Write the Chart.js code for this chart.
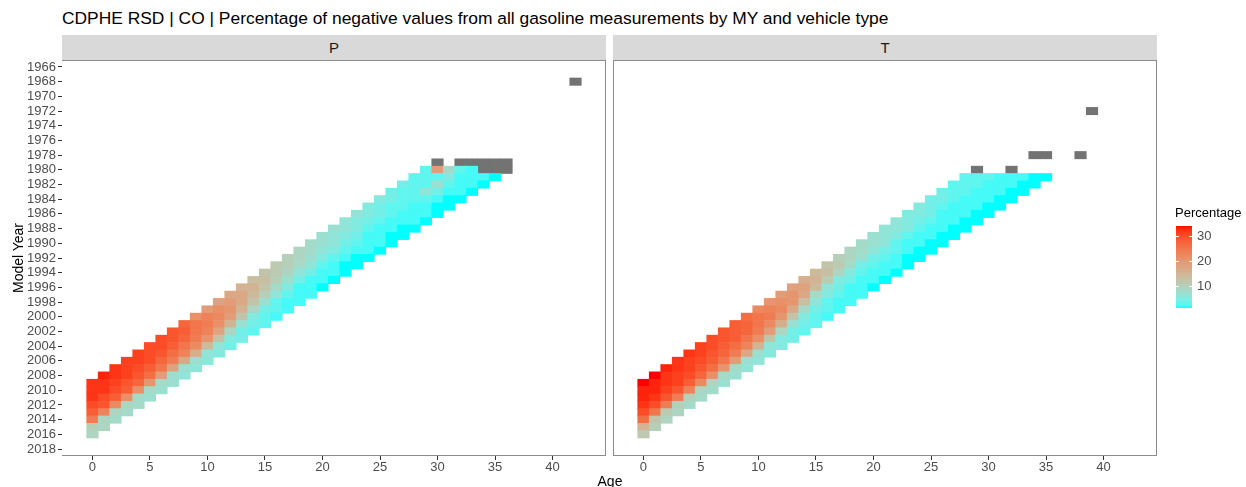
<!DOCTYPE html>
<html><head><meta charset="utf-8">
<script src="https://cdn.jsdelivr.net/npm/chart.js@4.4.1/dist/chart.umd.min.js"></script>
<style>
html,body{margin:0;padding:0;background:#fff;}
#wrap{position:relative;width:1246px;height:487px;overflow:hidden;font-family:"Liberation Sans",Arial,sans-serif;background:#fff;}
canvas{position:absolute;top:0;}
.t{position:absolute;white-space:nowrap;line-height:1;}
.strip{position:absolute;top:35px;height:25px;line-height:25px;background:#d9d9d9;text-align:center;font-size:15px;color:#1a1a1a;}
</style></head><body>
<div id="wrap">
  <div class="t" style="left:62px;top:10px;font-size:17.4px;color:#000;">CDPHE RSD | CO | Percentage of negative values from all gasoline measurements by MY and vehicle type</div>
  <div class="strip" style="left:62px;width:544px;">P</div>
  <div class="strip" style="left:613px;width:544px;">T</div>
  <canvas id="cP" width="610" height="487" style="left:0;width:610px;height:487px;"></canvas>
  <canvas id="cT" width="636" height="487" style="left:610px;width:636px;height:487px;"></canvas>
  <div class="t" style="left:590px;top:474px;font-size:14px;color:#000;width:40px;text-align:center;">Age</div>
  <div class="t" style="left:-22px;top:251px;font-size:14px;color:#000;width:80px;text-align:center;transform:rotate(-90deg);">Model Year</div>
  <div class="t" style="left:1175px;top:206px;font-size:13px;color:#000;">Percentage</div>
  <div id="legLabels"></div>
</div>
<script>
// ---------------- data ----------------
const CAL_YEARS = [2009, 2010, 2011, 2012, 2013, 2014, 2015, 2016]; // measurement year; index = age
const P_2009 = [32,33,32,31,31,30,30,29,27,21,19,18,17,15,13,12,11,10,9,8,7,7,6,6,5,5,4,4,3,3];
const P_2010 = [32,32,32,31,31,30,30,29,28,25,23,21,19,17,15,13,11,10,9,8,7,6,6,5,5,4,4,3,3,3,19];
const P_2011 = [32,32,31,31,30,30,29,28,27,25,24,22,20,17,14,12,10,9,8,7,6,6,5,5,4,4,3,3,3,3,3,8];
const P_2012 = [30,30,30,29,29,28,27,26,25,24,23,21,19,15,12,10,8,7,6,6,5,5,4,4,3,3,3,3,3,6,7,5,3];
const P_2013 = [28,29,28,28,27,26,25,24,23,22,20,18,15,12,9,7,6,5,4,4,3,3,3,3,2,2,2,2,2,3,4,3,2,2];
const P_2014 = [24,23,22,21,21,20,19,18,17,16,14,12,9,7,5,4,3,3,2,2,2,2,2,2,2,2,2,2,2,2,2,2,2,2];
const P_2015 = [10,9,9,9,8,8,8,7,7,7,6,6,5,4,4,3,3,2,2,2,2,2,1,1,2,2,1,1,2,2,1,1,2,2,2];
const P_2016 = [9,9,8,8,8,7,7,7,6,6,6,5,4,4,3,3,2,2,2,2,1,1,1,1,1,1,1,1,1,1,1,1,1,1,1,1];

const T_2009 = [34,34,33,32,32,31,30,29,28,26,22,20,19,18,16,14,12,10,9,8,7,6,6,5,5,4,4,3,3];
const T_2010 = [33,33,32,32,31,31,30,29,28,27,25,23,21,20,18,15,13,11,9,8,7,6,6,5,5,4,4,3,3,3];
const T_2011 = [33,33,32,31,31,30,29,28,28,27,25,24,22,20,17,14,11,9,8,7,6,6,5,5,4,4,3,3,3,3,3];
const T_2012 = [32,32,31,31,30,29,28,27,26,25,24,22,20,17,13,8,6,5,5,4,4,4,3,3,3,3,2,2,2,2,2,2];
const T_2013 = [30,30,29,29,28,27,26,25,24,23,21,19,16,12,8,6,5,4,4,3,3,3,3,2,2,2,2,2,2,2,2,2,2];
const T_2014 = [26,25,24,24,23,22,21,20,19,17,15,12,9,7,5,4,3,3,2,2,2,2,2,2,2,2,2,2,2,2,2,2,2,2];
const T_2015 = [15,12,11,10,10,9,9,8,8,7,7,6,5,4,4,3,3,2,2,2,2,2,2,1,1,1,1,1,1,1,1,1,1,1,1];
const T_2016 = [11,10,9,9,8,8,8,7,7,6,6,5,5,4,3,3,2,2,2,2,1,1,1,1,1,1,1,1,1,1,1,1,1,1,1,1];

// tiles with missing percentage (NA) : [age, model year]
const P_NA = [[42,1968],[30,1979],[32,1979],[33,1979],[34,1979],[35,1979],[36,1979],[34,1980],[35,1980],[36,1980]];
const T_NA = [[39,1972],[34,1978],[35,1978],[38,1978],[29,1980],[32,1980]];

const AGE_TICKS = [0, 5, 10, 15, 20, 25, 30, 35, 40];
const MY_TICKS = [1966,1968,1970,1972,1974,1976,1978,1980,1982,1984,1986,1988,1990,1992,1994,1996,1998,2000,2002,2004,2006,2008,2010,2012,2014,2016,2018];
const LEGEND_TICKS = [10, 20, 30];
const LOW_COLOR = [0, 255, 255], HIGH_COLOR = [255, 0, 0], NA_COLOR = '#737373';

// ---------------- colour scale (Lab interpolation like ggplot) ----------------
function toLin(c){c/=255;return c<=0.04045?c/12.92:Math.pow((c+0.055)/1.055,2.4);}
function toS(c){const v=c<=0.0031308?12.92*c:1.055*Math.pow(c,1/2.4)-0.055;return Math.round(Math.max(0,Math.min(1,v))*255);}
function rgb2lab(rgb){const r=toLin(rgb[0]),g=toLin(rgb[1]),b=toLin(rgb[2]);
  const X=(0.4124564*r+0.3575761*g+0.1804375*b)/0.95047,Y=0.2126729*r+0.7151522*g+0.0721750*b,Z=(0.0193339*r+0.1191920*g+0.9503041*b)/1.08883;
  const f=t=>t>216/24389?Math.cbrt(t):(24389/27*t+16)/116;const fx=f(X),fy=f(Y),fz=f(Z);
  return [116*fy-16,500*(fx-fy),200*(fy-fz)];}
function lab2rgb(l){const fy=(l[0]+16)/116,fx=fy+l[1]/500,fz=fy-l[2]/200;
  const fi=t=>t*t*t>216/24389?t*t*t:(116*t-16)/(24389/27);
  const X=fi(fx)*0.95047,Y=fi(fy),Z=fi(fz)*1.08883;
  return [toS(3.2404542*X-1.5371385*Y-0.4985314*Z),toS(-0.9692660*X+1.8760108*Y+0.0415560*Z),toS(0.0556434*X-0.2040259*Y+1.0572252*Z)];}
const LAB_LO = rgb2lab(LOW_COLOR), LAB_HI = rgb2lab(HIGH_COLOR);
const ALL_P = [P_2009,P_2010,P_2011,P_2012,P_2013,P_2014,P_2015,P_2016];
const ALL_T = [T_2009,T_2010,T_2011,T_2012,T_2013,T_2014,T_2015,T_2016];
const allVals = ALL_P.concat(ALL_T).flat().filter(v => v !== null);
const V_MIN = Math.min(...allVals), V_MAX = Math.max(...allVals);
function fillFor(v){
  const t = Math.max(0, Math.min(1, (v - V_MIN) / (V_MAX - V_MIN)));
  const c = lab2rgb([0,1,2].map(i => LAB_LO[i] + (LAB_HI[i] - LAB_LO[i]) * t));
  return 'rgb(' + c.join(',') + ')';
}

// ---------------- build tiles ----------------
function buildTiles(rows){
  const out = [];
  rows.forEach((arr, i) => {
    const c = CAL_YEARS[i];
    arr.forEach((v, age) => { if (v !== null) out.push({y: c - age, x: [age - 0.5, age + 0.5], v}); });
  });
  return out;
}
function buildNA(list){ return list.map(p => ({y: p[1], x: [p[0] - 0.5, p[0] + 0.5]})); }

// axis view ranges (data range with 5% expansion)
const X_MIN = -2.65, X_MAX = 44.65, Y_MIN = 1965.05, Y_MAX = 2018.95;

function panelBorder(sides){
  return {id:'panelBorder', afterDatasetsDraw(ch){
    const a = ch.chartArea, c = ch.ctx;
    const l = Math.round(a.left)+0.5, r = Math.round(a.right)-0.5, t = Math.round(a.top)+0.5, b = Math.round(a.bottom)-0.5;
    c.save(); c.strokeStyle = '#8c8c8c'; c.lineWidth = 1; c.beginPath();
    if (sides.includes('t')) { c.moveTo(l-0.5, t); c.lineTo(r+0.5, t); }
    if (sides.includes('b')) { c.moveTo(l-0.5, b); c.lineTo(r+0.5, b); }
    if (sides.includes('l')) { c.moveTo(l, t); c.lineTo(l, b); }
    if (sides.includes('r')) { c.moveTo(r, t); c.lineTo(r, b); }
    c.stroke(); c.restore();
  }};
}

// legend geometry (in page px)
const LEG_X = 1176, LEG_W = 16, LEG_TOP = 226, LEG_BOT = 308;
function legY(v){ return LEG_BOT - (v - V_MIN) / (V_MAX - V_MIN) * (LEG_BOT - LEG_TOP); }
const legendPlugin = {id:'legendBar', afterDraw(ch){
  const c = ch.ctx, ox = 610; c.save();
  for (let y = LEG_TOP; y < LEG_BOT; y++) {
    const v = V_MIN + (LEG_BOT - (y + 0.5)) / (LEG_BOT - LEG_TOP) * (V_MAX - V_MIN);
    c.fillStyle = fillFor(v); c.fillRect(LEG_X - ox, y, LEG_W, 1);
  }
  c.strokeStyle = 'rgba(255,255,255,0.9)'; c.lineWidth = 1;
  LEGEND_TICKS.forEach(v => { const y = Math.round(legY(v)) + 0.5;
    c.beginPath(); c.moveTo(LEG_X - ox, y); c.lineTo(LEG_X - ox + 3, y);
    c.moveTo(LEG_X - ox + LEG_W - 3, y); c.lineTo(LEG_X - ox + LEG_W, y); c.stroke(); });
  c.restore();
}};

const tickFont = {family: '"Liberation Sans", Arial, sans-serif', size: 13};
function zeroPad(s){ s.paddingTop = 0; s.paddingBottom = 0; s.paddingLeft = 0; s.paddingRight = 0; }
function makeChart(id, rows, na, isP){
  const ds = [
    {data: buildTiles(rows), backgroundColor: ctx => ctx.raw ? fillFor(ctx.raw.v) : '#fff',
     grouped: false, barPercentage: 1, categoryPercentage: 1, borderWidth: 0},
    {data: buildNA(na), backgroundColor: NA_COLOR, grouped: false, barPercentage: 1, categoryPercentage: 1, borderWidth: 0}
  ];
  return new Chart(document.getElementById(id), {
    type: 'bar',
    data: {datasets: ds},
    options: {
      indexAxis: 'y', responsive: false, animation: false, devicePixelRatio: 1,
      layout: {padding: isP ? {left: 0, top: 60, right: 4, bottom: 0} : {left: 3, top: 60, right: 89, bottom: 0}},
      plugins: {legend: {display: false}, tooltip: {enabled: false}, title: {display: false}},
      scales: {
        x: {type: 'linear', min: X_MIN, max: X_MAX, offset: false,
            afterBuildTicks: s => { s.ticks = AGE_TICKS.map(v => ({value: v})); },
            afterFit: s => { s.height = 31; zeroPad(s); },
            grid: {offset: false, drawOnChartArea: false, drawTicks: true, tickLength: 4, tickColor: '#333333'},
            border: {display: false},
            ticks: {font: tickFont, color: '#4d4d4d', padding: 0, maxRotation: 0, autoSkip: false, callback: v => String(v)}},
        y: {type: 'linear', reverse: true, min: Y_MIN, max: Y_MAX, display: isP, offset: false,
            afterBuildTicks: s => { s.ticks = MY_TICKS.map(v => ({value: v})); },
            afterFit: s => { s.width = isP ? 62 : 0; zeroPad(s); },
            grid: {offset: false, drawOnChartArea: false, drawTicks: true, tickLength: 4, tickColor: '#333333'},
            border: {display: false},
            ticks: {font: tickFont, color: '#4d4d4d', padding: 2, autoSkip: false, callback: v => String(v)}}
      }
    },
    plugins: isP ? [panelBorder('tbr')] : [panelBorder('tblr'), legendPlugin]
  });
}
makeChart('cP', ALL_P, P_NA, true);
makeChart('cT', ALL_T, T_NA, false);

// legend labels
const ll = document.getElementById('legLabels');
LEGEND_TICKS.forEach(v => {
  const d = document.createElement('div'); d.className = 't';
  d.style.cssText = 'left:1197px;font-size:13px;color:#4d4d4d;top:' + (legY(v) - 6.5) + 'px;';
  d.textContent = String(v); ll.appendChild(d);
});
</script>
</body></html>
